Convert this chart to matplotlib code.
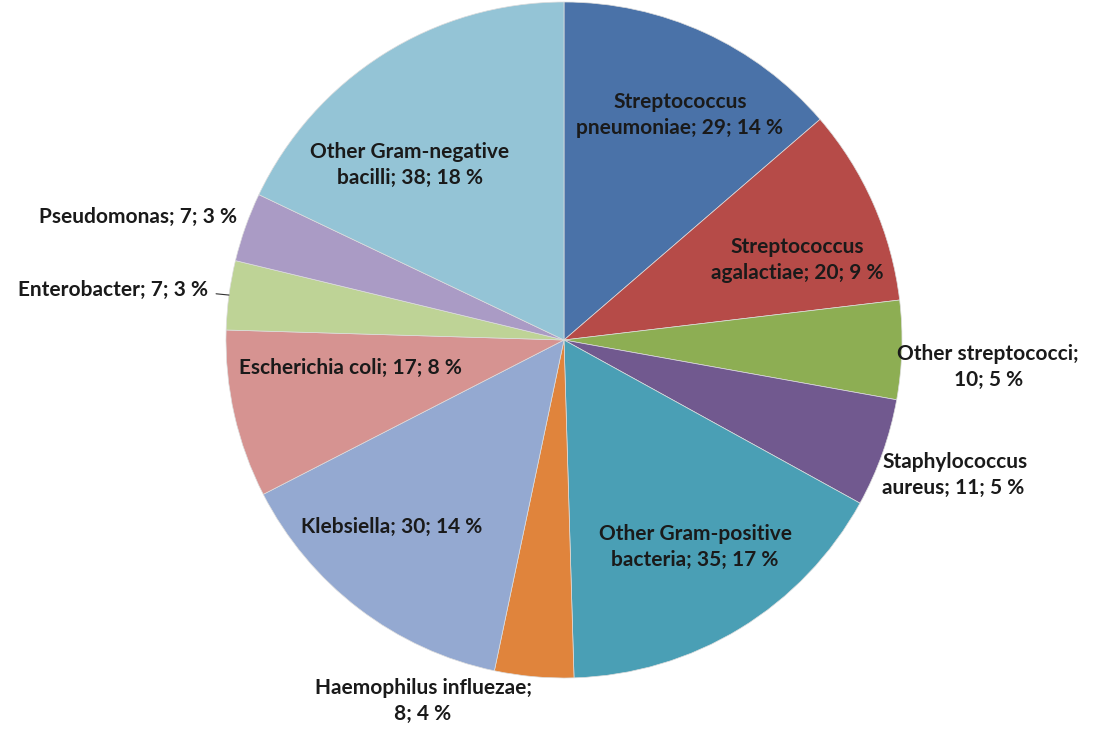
import numpy as np
import matplotlib
matplotlib.use("Agg")
import matplotlib.pyplot as plt

# Bacteria counts, clockwise from 12 o'clock
names = [
    "Streptococcus\npneumoniae",
    "Streptococcus\nagalactiae",
    "Other streptococci",
    "Staphylococcus\naureus",
    "Other Gram-positive\nbacteria",
    "Haemophilus influezae",
    "Klebsiella",
    "Escherichia coli",
    "Enterobacter",
    "Pseudomonas",
    "Other Gram-negative\nbacilli",
]
counts = [29, 20, 10, 11, 35, 8, 30, 17, 7, 7, 38]
colors = ["#4A72A8", "#B64B48", "#8DAE53", "#71598F", "#4A9FB5", "#E0843C",
          "#94A9D1", "#D69391", "#BED396", "#AA9BC5", "#94C4D6"]

# label placement (data coords, pie radius = 1) and alignment
label_pos = [(0.343, 0.666), (0.689, 0.237), (1.255, -0.080), (0.941, -0.399),
             (0.388, -0.612), (-0.417, -1.068), (-0.509, -0.553), (-0.633, -0.083),
             (-1.335, 0.148), (-1.260, 0.364), (-0.456, 0.518)]
label_ha = ["center", "center", "center", "left", "center", "center",
            "center", "center", "center", "center", "center"]
break_after_name = {"Other streptococci", "Haemophilus influezae"}

plt.rcParams["font.family"] = ["Lato", "DejaVu Sans"]

fig = plt.figure(figsize=(10.99, 7.30), dpi=100)
cx, cy, r = 564, 340, 338
ax = fig.add_axes([(cx - r) / 1099, (730 - cy - r) / 730, 2 * r / 1099, 2 * r / 730])
wedges, _ = ax.pie(counts, colors=colors, startangle=90, counterclock=False, radius=1,
                   wedgeprops=dict(linewidth=0.5, edgecolor="#dddddd"))
ax.set_xlim(-1, 1)
ax.set_ylim(-1, 1)
ax.set_aspect("equal")
ax.axis("off")

fs = 15
total = sum(counts)
for i, (name, v) in enumerate(zip(names, counts)):
    pct = int(round(v / total * 100))
    sep = ";\n" if name in break_after_name else "; "
    txt = f"{name}{sep}{v}; {pct} %"
    x, y = label_pos[i]
    if name == "Enterobacter":
        w = wedges[i]
        mid = np.deg2rad((w.theta1 + w.theta2) / 2)
        ax.annotate(txt, xy=(np.cos(mid), np.sin(mid)), xytext=(x, y),
                    ha="center", va="center", fontsize=fs, fontweight="bold",
                    color="#1a1a1a", annotation_clip=False,
                    arrowprops=dict(arrowstyle="-", color="#333333", lw=0.8,
                                    relpos=(1, 0.35), shrinkA=4, shrinkB=0))
    else:
        ax.text(x, y, txt, ha=label_ha[i], va="center", multialignment=label_ha[i],
                fontsize=fs, fontweight="bold", color="#1a1a1a", linespacing=1.4,
                clip_on=False)

fig.savefig("out.png", dpi=100)
